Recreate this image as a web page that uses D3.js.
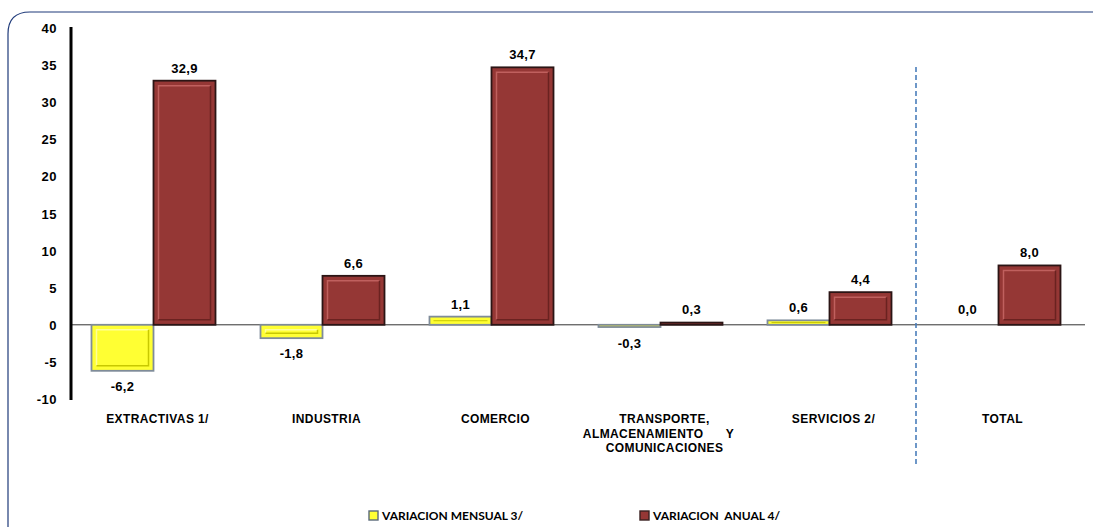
<!DOCTYPE html>
<html>
  <head>
    <style>
      body { margin: 0; background: #fff; }
      text { font-family: "Liberation Sans", Arial, sans-serif; font-weight: bold; fill: #000; }
    </style>
    <script src="https://d3js.org/d3.v7.min.js"></script>
  </head>
  <body>
    <svg id="chart" width="1093" height="527"></svg>
    <script>
      var categories = ["EXTRACTIVAS 1/", "INDUSTRIA", "COMERCIO", "TRANSPORTE,|ALMACENAMIENTO      Y|COMUNICACIONES", "SERVICIOS 2/", "TOTAL"];
      var mensual = [-6.2, -1.8, 1.1, -0.3, 0.6, 0.0];
      var anual = [32.9, 6.6, 34.7, 0.3, 4.4, 8.0];
      var yTicks = [40, 35, 30, 25, 20, 15, 10, 5, 0, -5, -10];
      var seriesNames = ["VARIACION MENSUAL 3/", "VARIACION  ANUAL 4/"];

      var svg = d3.select("#chart");

      // frame
      svg.append("path")
        .attr("d", "M8,1100 L8,34 Q8,12 30,12 L1200,12")
        .attr("fill", "none")
        .attr("stroke", "#1f3a7a")
        .attr("stroke-width", 1.2);

      var y = d3.scaleLinear().domain([-10, 40]).range([399, 28]);
      var x = d3.scaleBand().domain(d3.range(categories.length)).range([71, 1085]);
      var barW = 62;

      // y axis labels
      svg.selectAll(".ytick").data(yTicks).enter().append("text")
        .attr("x", 57).attr("y", function(d) { return y(d) + 5; })
        .attr("text-anchor", "end").attr("font-size", 13).attr("letter-spacing", 0.5)
        .text(function(d) { return d; });

      // zero line
      svg.append("line")
        .attr("x1", 71).attr("x2", 1085).attr("y1", y(0)).attr("y2", y(0))
        .attr("stroke", "#333").attr("stroke-width", 1);

      function fmt(v) { return v.toFixed(1).replace(".", ","); }

      function drawBar(v, i, k, fill, edge, light, dark) {
        var cx = x(i) + x.bandwidth() / 2 - 2;
        var x0 = k === 0 ? cx - barW : cx;
        var top = Math.min(y(v), y(0)), h = Math.abs(y(v) - y(0));
        if (v === 0) return;
        var g = svg.append("g");
        g.append("rect").attr("x", x0).attr("y", top).attr("width", barW).attr("height", Math.max(h, 2))
          .attr("fill", fill).attr("stroke", edge).attr("stroke-width", 1.8);
        if (h > 10) {
          var ins = 5;
          g.append("path")
            .attr("d", "M" + (x0 + ins) + "," + (top + h - ins) + " L" + (x0 + ins) + "," + (top + ins) + " L" + (x0 + barW - ins) + "," + (top + ins))
            .attr("fill", "none").attr("stroke", light).attr("stroke-width", 1.5);
          g.append("path")
            .attr("d", "M" + (x0 + barW - ins) + "," + (top + ins) + " L" + (x0 + barW - ins) + "," + (top + h - ins) + " L" + (x0 + ins) + "," + (top + h - ins))
            .attr("fill", "none").attr("stroke", dark).attr("stroke-width", 1.5);
        } else if (h > 4) {
          g.append("line").attr("x1", x0 + 4).attr("x2", x0 + barW - 4)
            .attr("y1", top + h / 2).attr("y2", top + h / 2)
            .attr("stroke", dark).attr("stroke-width", 1);
        }
      }

      mensual.forEach(function(v, i) { drawBar(v, i, 0, "#ffff33", "#7f8c99", "#ffff99", "#c8c800"); });
      anual.forEach(function(v, i) { drawBar(v, i, 1, "#953735", "#2b1515", "#c0605e", "#6a2220"); });

      // value labels
      function label(vals, k) {
        vals.forEach(function(v, i) {
          var cx = x(i) + x.bandwidth() / 2 - 2 + (k === 0 ? -barW / 2 : barW / 2);
          var ty = v >= 0 ? y(v) - 8 : y(v) + 20;
          if (v === 0) ty = y(0) - 9;
          if (Math.abs(v) < 0.5) ty = v >= 0 ? y(0) - 11 : y(0) + 23;
          svg.append("text").attr("x", cx).attr("y", ty)
            .attr("text-anchor", "middle").attr("font-size", 13).attr("letter-spacing", 0.3).text(fmt(v));
        });
      }
      label(mensual, 0);
      label(anual, 1);

      // y axis line
      svg.append("line").attr("x1", 71).attr("x2", 71).attr("y1", 27).attr("y2", 400)
        .attr("stroke", "#000").attr("stroke-width", 3);

      // category labels
      categories.forEach(function(c, i) {
        var lines = c.split("|");
        var cx = x(i) + x.bandwidth() / 2 + 2;
        var t = svg.append("text").attr("x", cx).attr("y", 423)
          .attr("text-anchor", "middle").attr("font-size", 12).attr("letter-spacing", 0.4);
        lines.forEach(function(l, j) {
          t.append("tspan").attr("x", cx - (j === 1 ? 6 : 0)).attr("dy", j === 0 ? 0 : 14.5)
            .attr("xml:space", "preserve").style("white-space", "pre").text(l);
        });
      });

      // divider
      svg.append("line").attr("x1", 916).attr("x2", 916).attr("y1", 67).attr("y2", 465)
        .attr("stroke", "#4a7ebb").attr("stroke-width", 1.6).attr("stroke-dasharray", "5,3");

      // legend
      var legX = [369, 640];
      var legFill = ["#ffff33", "#953735"];
      var legEdge = ["#5a6a7a", "#3a2020"];
      seriesNames.forEach(function(n, k) {
        svg.append("rect").attr("x", legX[k]).attr("y", 511).attr("width", 9).attr("height", 9)
          .attr("fill", legFill[k]).attr("stroke", legEdge[k]).attr("stroke-width", 1.4);
        svg.append("text").attr("x", legX[k] + 13).attr("y", 520).attr("font-size", 12)
          .style("font-family", "Lato, 'Liberation Sans', sans-serif")
          .attr("xml:space", "preserve").style("white-space", "pre").text(n);
      });
    </script>
  </body>
</html>
